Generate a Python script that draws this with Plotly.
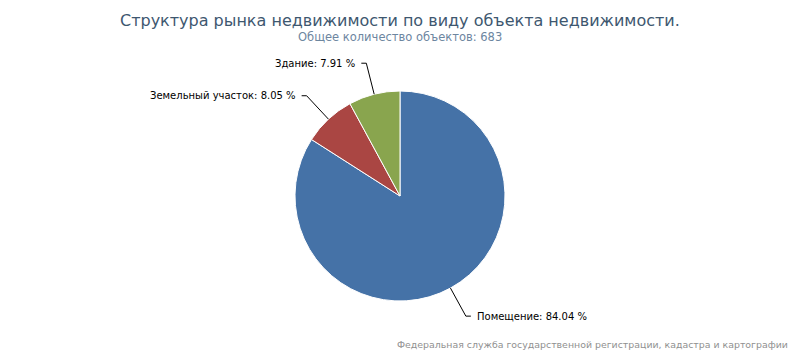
import math
import plotly.graph_objects as go

labels = ["Помещение", "Земельный участок", "Здание"]
counts = [574, 55, 54]
percents = [84.04, 8.05, 7.91]
colors = ["#4572A7", "#AA4643", "#89A54E"]

title = "Структура рынка недвижимости по виду объекта недвижимости."
subtitle = "Общее количество объектов: 683"
credits = "Федеральная служба государственной регистрации, кадастра и картографии"

W, H = 800, 354
cx, cy, r = 400, 196, 105

def px(x):
    return x / W

def py(y):
    return 1 - y / H

fig = go.Figure(go.Pie(
    labels=labels, values=counts, sort=False, direction="clockwise", rotation=0,
    marker=dict(colors=colors, line=dict(color="white", width=1)),
    textinfo="none", showlegend=False,
    domain=dict(x=[px(cx - r), px(cx + r)], y=[py(cy + r), py(cy - r)]),
))

shapes = []
annotations = []
total = sum(counts)
acc = 0
font = "DejaVu Sans, Lucida Grande, sans-serif"
for lab, c, p in zip(labels, counts, percents):
    mid = (acc + c / 2) / total * 2 * math.pi
    acc += c
    dx, dy = math.sin(mid), -math.cos(mid)
    ex, ey = cx + r * dx, cy + r * dy
    ax, ay = cx + (r + 32) * dx, cy + (r + 32) * dy
    side = 1 if dx >= 0 else -1
    hx = ax + 5 * side
    shapes.append(dict(type="path", xref="paper", yref="paper",
                       path=f"M {px(ex)} {py(ey)} L {px(ax)} {py(ay)} L {px(hx)} {py(ay)}",
                       line=dict(color="#000000", width=1)))
    annotations.append(dict(x=px(hx + 4 * side), y=py(ay), xref="paper", yref="paper",
                            text=f"{lab}: {p:.2f} %", showarrow=False,
                            xanchor="left" if side > 0 else "right", yanchor="middle",
                            font=dict(family=font, size=10, color="#000000")))

annotations.append(dict(x=0.5, y=py(20), xref="paper", yref="paper", text=title,
                        showarrow=False, xanchor="center", yanchor="middle",
                        font=dict(family=font, size=16, color="#3E576F")))
annotations.append(dict(x=0.5, y=py(37), xref="paper", yref="paper", text=subtitle,
                        showarrow=False, xanchor="center", yanchor="middle",
                        font=dict(family=font, size=11.5, color="#6D869F")))
annotations.append(dict(x=px(790), y=py(344), xref="paper", yref="paper", text=credits,
                        showarrow=False, xanchor="right", yanchor="middle",
                        font=dict(family=font, size=9.4, color="#909090")))

fig.update_layout(width=W, height=H, margin=dict(l=0, r=0, t=0, b=0),
                  paper_bgcolor="white", plot_bgcolor="white",
                  shapes=shapes, annotations=annotations)
fig.write_html("out.html")
